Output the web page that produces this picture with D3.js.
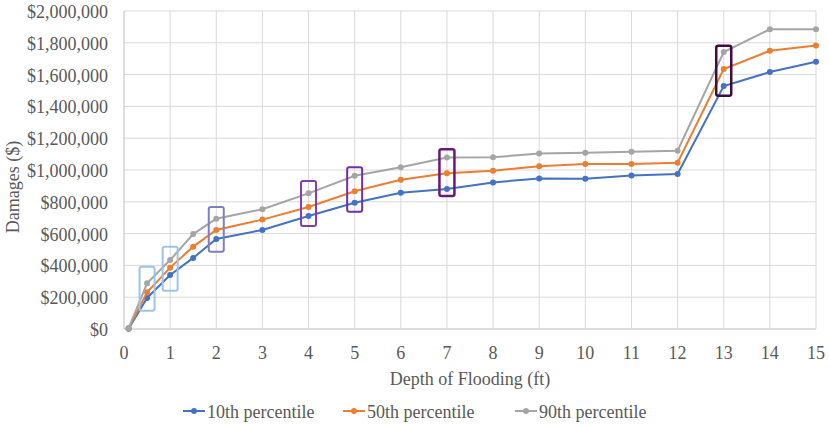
<!DOCTYPE html>
<html>
<head>
<meta charset="utf-8">
<script src="https://cdn.jsdelivr.net/npm/d3@7"></script>
<style>
  body { margin: 0; background: #fff; }
  #chart { position: relative; width: 829px; height: 426px; }
  #chart svg { position: absolute; left: 0; top: 0; }
  .lbl { position: absolute; font-family: "Liberation Serif", "Times New Roman", serif; font-size: 18px;
         line-height: 1; color: #595959; white-space: nowrap; }
</style>
</head>
<body>
<div id="chart"></div>
<script>
// depth of flooding (ft)
var depths = [0.1, 0.5, 1, 1.5, 2, 3, 4, 5, 6, 7, 8, 9, 10, 11, 12, 13, 14, 15];
var p10 = [2000, 195000, 340000, 447000, 566000, 623000, 711000, 794000, 857000, 880000, 922000, 947000, 945000, 966000, 975000, 1528000, 1616000, 1681000];
var p50 = [4000, 231000, 386000, 518000, 623000, 688000, 767000, 866000, 939000, 979000, 996000, 1023000, 1038000, 1038000, 1046000, 1635000, 1750000, 1783000];
var p90 = [6000, 287000, 434000, 597000, 694000, 753000, 853000, 964000, 1017000, 1078000, 1080000, 1104000, 1109000, 1115000, 1121000, 1742000, 1885000, 1885000];
var seriesNames = ["10th percentile", "50th percentile", "90th percentile"];
var seriesColors = ["#4472C4", "#ED7D31", "#A5A5A5"];
var xTicks = d3.range(0, 16);
var yTicks = d3.range(0, 2000001, 200000);
// highlighted depths: box top / bottom in $ and colour
var boxDepths = [0.5, 1, 2, 4, 5, 7, 13];
var boxHigh = [392000, 518000, 767000, 931000, 1017000, 1130000, 1782000];
var boxLow = [115000, 241000, 486000, 648000, 738000, 836000, 1467000];
var boxColors = ["#9DC3E6", "#9DC3E6", "#7F7FBF", "#7F3FAF", "#7030A0", "#681A78", "#3F0D3F"];

var width = 829, height = 426;
var margin = {top: 11, right: 13, bottom: 97, left: 124};

var chart = d3.select("#chart");
var svg = chart.append("svg")
    .attr("width", width)
    .attr("height", height);

var x = d3.scaleLinear().domain([0, 15]).range([margin.left, width - margin.right]);
var y = d3.scaleLinear().domain([0, 2000000]).range([height - margin.bottom, margin.top]);

// text is html so the serif face is used
function label(px, py, txt, tf) {
    return chart.append("div")
        .attr("class", "lbl")
        .style("left", px + "px")
        .style("top", py + "px")
        .style("transform", tf)
        .text(txt);
}

// gridlines
svg.append("g")
    .selectAll("line")
    .data(yTicks)
    .enter().append("line")
    .attr("x1", x(0)).attr("x2", x(15))
    .attr("y1", function(d) { return y(d); })
    .attr("y2", function(d) { return y(d); })
    .attr("stroke", function(d) { return d === 0 ? "#BFBFBF" : "#D9D9D9"; })
    .attr("stroke-width", 1);

svg.append("g")
    .selectAll("line")
    .data(xTicks)
    .enter().append("line")
    .attr("x1", function(d) { return x(d); })
    .attr("x2", function(d) { return x(d); })
    .attr("y1", y(0)).attr("y2", y(2000000))
    .attr("stroke", function(d) { return d === 0 ? "#BFBFBF" : "#D9D9D9"; })
    .attr("stroke-width", 1);

// axes labels
var fmt = d3.format(",");
yTicks.forEach(function(d) {
    label(x(0) - 16, y(d) + 1, "$" + fmt(d), "translate(-100%,-50%)");
});
xTicks.forEach(function(d) {
    label(x(d), y(0) + 24, d, "translate(-50%,-50%)");
});
label((x(0) + x(15)) / 2, y(0) + 50, "Depth of Flooding (ft)", "translate(-50%,-50%)");
label(13, (y(0) + y(2000000)) / 2 + 17, "Damages ($)", "translate(-50%,-50%) rotate(-90deg)");

// series
var allSeries = [p10, p50, p90];
var line = d3.line()
    .x(function(d, i) { return x(depths[i]); })
    .y(function(d) { return y(d); });

allSeries.forEach(function(vals, s) {
    svg.append("path")
        .datum(vals)
        .attr("d", line)
        .attr("fill", "none")
        .attr("stroke", seriesColors[s])
        .attr("stroke-width", 2);
    svg.append("g")
        .selectAll("circle")
        .data(vals)
        .enter().append("circle")
        .attr("cx", function(d, i) { return x(depths[i]); })
        .attr("cy", function(d) { return y(d); })
        .attr("r", 3)
        .attr("fill", seriesColors[s]);
});

// highlight boxes
boxDepths.forEach(function(dep, k) {
    svg.append("rect")
        .attr("x", x(dep) - 7.5)
        .attr("y", y(boxHigh[k]))
        .attr("width", 15)
        .attr("height", y(boxLow[k]) - y(boxHigh[k]))
        .attr("rx", 2)
        .attr("fill", "none")
        .attr("stroke", boxColors[k])
        .attr("stroke-width", k >= 5 ? 2.5 : 2);
});

// legend
var legendX = [183, 343, 515];
var ly = 411;
seriesNames.forEach(function(name, s) {
    var g = svg.append("g").attr("transform", "translate(" + legendX[s] + "," + ly + ")");
    g.append("line")
        .attr("x1", 0).attr("x2", 22)
        .attr("stroke", seriesColors[s])
        .attr("stroke-width", 2);
    g.append("circle")
        .attr("cx", 11).attr("r", 3)
        .attr("fill", seriesColors[s]);
    label(legendX[s] + 24, ly + 1, name, "translate(0,-50%)");
});
</script>
</body>
</html>
